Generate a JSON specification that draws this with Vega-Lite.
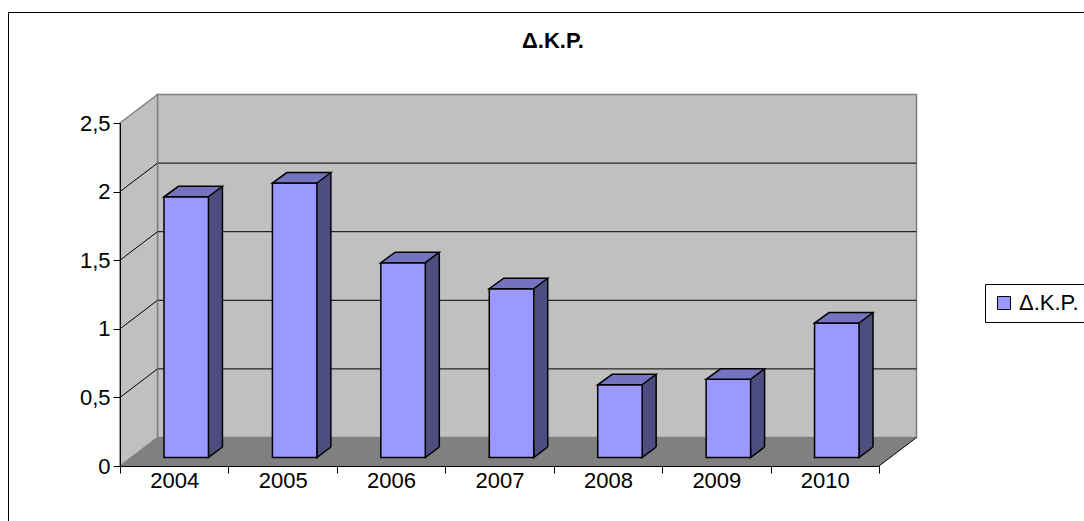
{
  "$schema": "https://vega.github.io/schema/vega-lite/v6.json",
  "width": 759,
  "height": 343,
  "autosize": {"type": "none"},
  "padding": {"left": 120, "top": 123, "right": 205, "bottom": 55},
  "background": "white",
  "config": {
    "view": {"stroke": null},
    "font": "Liberation Sans"
  },
  "title": {
    "text": "Δ.Κ.Ρ.",
    "font": "Liberation Sans",
    "fontSize": 22,
    "fontWeight": "bold",
    "color": "black",
    "anchor": "middle",
    "frame": "group",
    "dx": 53.5,
    "baseline": "alphabetic",
    "offset": -58
  },
  "datasets": {
    "bars": [
      {"year": "2004", "value": 1.9},
      {"year": "2005", "value": 2.0},
      {"year": "2006", "value": 1.42},
      {"year": "2007", "value": 1.23},
      {"year": "2008", "value": 0.53},
      {"year": "2009", "value": 0.57},
      {"year": "2010", "value": 0.98}
    ],
    "grid": [{"v": 0.5}, {"v": 1}, {"v": 1.5}, {"v": 2}],
    "one": [{}]
  },
  "layer": [
    {
      "data": {"name": "one"},
      "mark": {"type": "rect", "filled": false, "stroke": "black", "strokeWidth": 1, "width": 1092, "xOffset": 380.29, "yOffset": 80, "y2Offset": -110.5},
      "encoding": {
        "x": {"datum": "2004", "type": "ordinal", "title": null},
        "y": {"datum": 0, "type": "quantitative", "title": null},
        "y2": {"datum": 2.5}
      }
    },
    {
      "data": {"name": "one"},
      "mark": {"type": "rect", "fill": "#C0C0C0", "stroke": "#808080", "strokeWidth": 1.5, "width": 759, "xOffset": 362.79, "yOffset": -28.5, "y2Offset": -28.5},
      "encoding": {
        "x": {"datum": "2004", "type": "ordinal", "title": null},
        "y": {"datum": 0, "type": "quantitative", "title": null},
        "y2": {"datum": 2.5}
      }
    },
    {
      "data": {"name": "grid"},
      "mark": {"type": "rule", "stroke": "black", "strokeWidth": 1, "xOffset": 37.5, "yOffset": -28.5},
      "encoding": {
        "y": {"field": "v", "type": "quantitative", "title": null}
      }
    },
    {
      "data": {"name": "one"},
      "mark": {"type": "point", "filled": true, "opacity": 1, "size": 4, "fill": "#C0C0C0", "stroke": "#808080", "strokeWidth": 1.5,
        "shape": "M-54.21,0L-54.21,-343L-16.71,-371.5L-16.71,-28.5Z"},
      "encoding": {
        "x": {"datum": "2004", "type": "ordinal", "title": null},
        "y": {"datum": 0, "type": "quantitative", "title": null}
      }
    },
    {
      "data": {"name": "grid"},
      "mark": {"type": "point", "filled": false, "opacity": 1, "size": 4, "stroke": "black", "strokeWidth": 1,
        "shape": "M-54.21,0L-16.71,-28.5"},
      "encoding": {
        "x": {"datum": "2004", "type": "ordinal", "title": null},
        "y": {"field": "v", "type": "quantitative", "title": null}
      }
    },
    {
      "data": {"name": "one"},
      "mark": {"type": "point", "filled": true, "opacity": 1, "size": 4, "fill": "#808080", "strokeWidth": 0,
        "shape": "M-54.21,0L704.79,0L742.29,-28.5L-16.71,-28.5Z"},
      "encoding": {
        "x": {"datum": "2004", "type": "ordinal", "title": null},
        "y": {"datum": 0, "type": "quantitative", "title": null}
      }
    },
    {
      "data": {"name": "one"},
      "mark": {"type": "point", "filled": false, "opacity": 1, "size": 4, "stroke": "black", "strokeWidth": 1,
        "shape": "M704.79,0L742.29,-28.5"},
      "encoding": {
        "x": {"datum": "2004", "type": "ordinal", "title": null},
        "y": {"datum": 0, "type": "quantitative", "title": null}
      }
    },
    {
      "data": {"name": "bars"},
      "mark": {"type": "bar", "fill": "#4D4D80", "strokeWidth": 0, "width": 14, "xOffset": 41.23, "yOffset": -19, "y2Offset": -19},
      "encoding": {
        "x": {"field": "year", "type": "ordinal", "title": null},
        "y": {"field": "value", "type": "quantitative", "title": null},
        "y2": {"datum": 0}
      }
    },
    {
      "data": {"name": "bars"},
      "mark": {"type": "point", "filled": true, "opacity": 1, "size": 4, "fill": "#4D4D80", "stroke": "black", "strokeWidth": 1.5, "xOffset": 12, "yOffset": -8.5,
        "shape": "M22.23,-10.5L22.23,0L36.23,-10.5"},
      "encoding": {
        "x": {"field": "year", "type": "ordinal", "title": null},
        "y": {"datum": 0, "type": "quantitative", "title": null}
      }
    },
    {
      "data": {"name": "bars"},
      "mark": {"type": "rule", "stroke": "black", "strokeWidth": 1.5, "xOffset": 48.23, "yOffset": -19, "y2Offset": -19},
      "encoding": {
        "x": {"field": "year", "type": "ordinal", "title": null},
        "y": {"field": "value", "type": "quantitative", "title": null},
        "y2": {"datum": 0}
      }
    },
    {
      "data": {"name": "bars"},
      "mark": {"type": "bar", "stroke": "black", "strokeWidth": 1.5, "width": {"band": 0.41}, "xOffset": 12, "yOffset": -8.5, "y2Offset": -8.5},
      "encoding": {
        "x": {
          "field": "year", "type": "ordinal", "title": null,
          "scale": {"type": "band", "paddingInner": 0, "paddingOuter": 0},
          "axis": {
            "tickBand": "extent", "labelAngle": 0, "labelAlign": "center",
            "labelFont": "Liberation Sans", "labelFontSize": 22, "labelColor": "black",
            "labelPadding": 7, "tickSize": 7, "tickColor": "black", "domainColor": "black", "grid": false, "zindex": 1
          }
        },
        "y": {
          "field": "value", "type": "quantitative", "title": null,
          "scale": {"domain": [0, 2.5], "nice": false, "zero": true},
          "axis": {
            "values": [0, 0.5, 1, 1.5, 2, 2.5], "labelExpr": "replace(toString(datum.value), '.', ',')",
            "labelFont": "Liberation Sans", "labelFontSize": 22, "labelColor": "black", "labelPadding": 3,
            "tickSize": 7, "tickColor": "black", "domainColor": "black", "grid": false, "zindex": 1
          }
        },
        "fill": {
          "datum": "Δ.Κ.Ρ.", "type": "nominal",
          "scale": {"range": ["#9999FF"]},
          "legend": {
            "orient": "none", "legendX": 865, "legendY": 161, "title": null, "symbolType": "square", "symbolSize": 169,
            "symbolStrokeColor": "black", "symbolStrokeWidth": 1, "labelFont": "Liberation Sans", "labelFontSize": 22,
            "labelColor": "black", "labelOffset": 4, "padding": 8, "strokeColor": "black", "fillColor": "white"
          }
        }
      }
    },
    {
      "data": {"name": "bars"},
      "mark": {"type": "point", "filled": true, "opacity": 1, "size": 4, "fill": "#7373BF", "stroke": "black", "strokeWidth": 1.5, "xOffset": 12, "yOffset": -8.5,
        "shape": "M-22.23,0L22.23,0L36.23,-10.5L-7.77,-10.5Z"},
      "encoding": {
        "x": {"field": "year", "type": "ordinal", "title": null},
        "y": {"field": "value", "type": "quantitative", "title": null}
      }
    }
  ]
}
